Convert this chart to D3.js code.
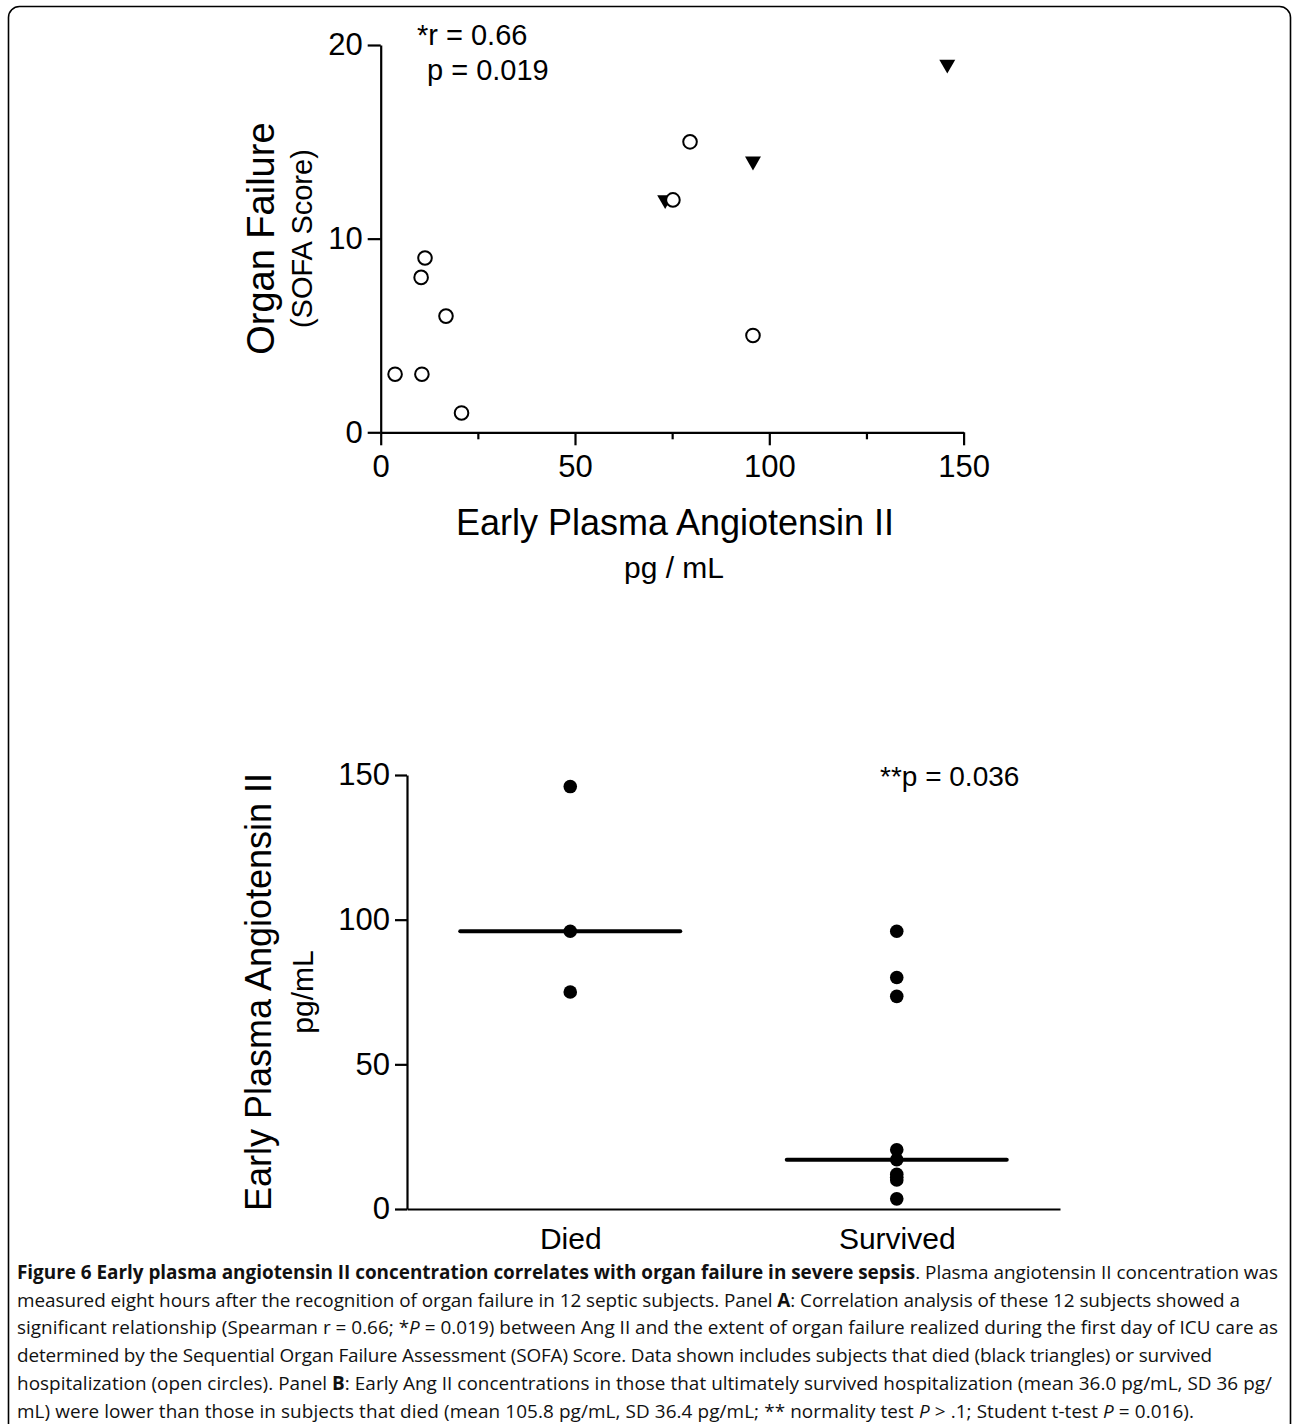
<!DOCTYPE html>
<html>
<head>
<meta charset="utf-8">
<title>Figure 6</title>
<style>
  body { margin: 0; background: #ffffff; }
  svg { display: block; }
  .axis path, .axis line { stroke: #000; stroke-width: 2.2px; fill: none; }
  .axis text { font-family: 'Liberation Sans', Arial, sans-serif; fill: #000; }
  .lbl { font-family: 'Liberation Sans', Arial, sans-serif; fill: #000; }
  .cap { font-family: 'Open Sans', sans-serif; fill: #111; }
</style>
</head>
<body>
<script src="https://cdn.jsdelivr.net/npm/d3@7"></script>
<script>
'use strict';

// panel A: organ failure vs early Ang II
const survivedX = [3.7, 10.6, 10.4, 11.4, 16.8, 20.8, 79.6, 75.2, 95.8];
const survivedY = [3, 3, 8, 9, 6, 1, 15, 12, 5];
const diedX = [73.2, 95.8, 145.8];
const diedY = [12, 14, 19];
const topYTicks = [0, 10, 20];
const topXMajor = [0, 50, 100, 150];
const topXMinor = [25, 75, 125];

// panel B: Ang II by outcome
const groups = ['Died', 'Survived'];
const diedVals = [146, 96, 75];
const survivedVals = [96, 80, 73.5, 20.5, 17, 12, 11, 10, 3.5];
const medians = [96, 17];
const botYTicks = [0, 50, 100, 150];

// caption
const captionLines = [
  [['Figure 6 Early plasma angiotensin II concentration correlates with organ failure in severe sepsis', 'b'], ['. Plasma angiotensin II concentration was', '']],
  [['measured eight hours after the recognition of organ failure in 12 septic subjects. Panel ', ''], ['A', 'b'], [': Correlation analysis of these 12 subjects showed a', '']],
  [['significant relationship (Spearman r = 0.66; *', ''], ['P', 'i'], [' = 0.019) between Ang II and the extent of organ failure realized during the first day of ICU care as', '']],
  [['determined by the Sequential Organ Failure Assessment (SOFA) Score. Data shown includes subjects that died (black triangles) or survived', '']],
  [['hospitalization (open circles). Panel ', ''], ['B', 'b'], [': Early Ang II concentrations in those that ultimately survived hospitalization (mean 36.0 pg/mL, SD 36 pg/', '']],
  [['mL) were lower than those in subjects that died (mean 105.8 pg/mL, SD 36.4 pg/mL; ** normality test ', ''], ['P', 'i'], [' > .1; Student t-test ', ''], ['P', 'i'], [' = 0.016).', '']]
];
const captionEnds = [1278, 1240, 1278, 1212, 1272, 1194];

const W = 1292, H = 1424;
const svg = d3.select('body').append('svg')
  .attr('width', W)
  .attr('height', H);

// frame around the figure
svg.append('rect')
  .attr('x', 8.5).attr('y', 6.5)
  .attr('width', 1282).attr('height', 1440)
  .attr('rx', 11).attr('ry', 11)
  .attr('fill', 'none')
  .attr('stroke', '#000')
  .attr('stroke-width', 1.6);

// ---------- panel A ----------
const xA = d3.scaleLinear().domain([0, 150]).range([380.7, 963.6]);
const yA = d3.scaleLinear().domain([0, 20]).range([432.3, 45]);

svg.append('g')
  .attr('class', 'axis')
  .attr('transform', 'translate(0,' + yA(0) + ')')
  .call(d3.axisBottom(xA).tickValues(topXMinor).tickSize(7).tickSizeOuter(0).tickFormat(''))
  .call(g => g.select('.domain').remove());

svg.append('g')
  .attr('class', 'axis')
  .attr('transform', 'translate(0,' + yA(0) + ')')
  .call(d3.axisBottom(xA).tickValues(topXMajor).tickSize(13).tickSizeOuter(0).tickPadding(10))
  .call(g => g.selectAll('text').attr('font-size', 31));

svg.append('g')
  .attr('class', 'axis')
  .attr('transform', 'translate(' + xA(0) + ',0)')
  .call(d3.axisLeft(yA).tickValues(topYTicks).tickSize(13).tickSizeOuter(0).tickPadding(5))
  .call(g => g.selectAll('text').attr('font-size', 31));

// died: filled down triangles
svg.selectAll('.tri')
  .data(diedX)
  .enter().append('path')
    .attr('class', 'tri')
    .attr('d', d3.symbol(d3.symbolTriangle, 110))
    .attr('transform', (d, i) => 'translate(' + xA(d) + ',' + yA(diedY[i]) + ') rotate(180)')
    .attr('fill', '#000');

// survived: open circles
svg.selectAll('.open')
  .data(survivedX)
  .enter().append('circle')
    .attr('class', 'open')
    .attr('cx', d => xA(d))
    .attr('cy', (d, i) => yA(survivedY[i]))
    .attr('r', 6.8)
    .attr('fill', '#fff')
    .attr('stroke', '#000')
    .attr('stroke-width', 2);

svg.append('text').attr('class', 'lbl')
  .attr('x', 417).attr('y', 45).attr('font-size', 29)
  .text('*r = 0.66');
svg.append('text').attr('class', 'lbl')
  .attr('x', 427).attr('y', 80).attr('font-size', 29)
  .text('p = 0.019');

svg.append('text').attr('class', 'lbl')
  .attr('transform', 'translate(274,' + yA(10) + ') rotate(-90)')
  .attr('text-anchor', 'middle').attr('font-size', 38)
  .text('Organ Failure');
svg.append('text').attr('class', 'lbl')
  .attr('transform', 'translate(312,' + yA(10) + ') rotate(-90)')
  .attr('text-anchor', 'middle').attr('font-size', 29)
  .text('(SOFA Score)');

svg.append('text').attr('class', 'lbl')
  .attr('x', 675).attr('y', 535)
  .attr('text-anchor', 'middle').attr('font-size', 36)
  .text('Early Plasma Angiotensin II');
svg.append('text').attr('class', 'lbl')
  .attr('x', 674).attr('y', 578)
  .attr('text-anchor', 'middle').attr('font-size', 30)
  .text('pg / mL');

// ---------- panel B ----------
const xB = d3.scalePoint().domain(groups).range([407, 1060]).padding(0.5);
const yB = d3.scaleLinear().domain([0, 150]).range([1209, 775]);

svg.append('g')
  .attr('class', 'axis')
  .attr('transform', 'translate(0,' + yB(0) + ')')
  .call(d3.axisBottom(xB).tickSize(0).tickSizeOuter(0).tickPadding(19))
  .call(g => g.selectAll('text').attr('font-size', 30));

svg.append('g')
  .attr('class', 'axis')
  .attr('transform', 'translate(' + xB.range()[0] + ',0)')
  .call(d3.axisLeft(yB).tickValues(botYTicks).tickSize(12).tickSizeOuter(0).tickPadding(5))
  .call(g => g.selectAll('text').attr('font-size', 31));

const pts = diedVals.map(v => ({g: 'Died', v: v}))
  .concat(survivedVals.map(v => ({g: 'Survived', v: v})));

svg.selectAll('.dot')
  .data(pts)
  .enter().append('circle')
    .attr('class', 'dot')
    .attr('cx', d => xB(d.g))
    .attr('cy', d => yB(d.v))
    .attr('r', 6.8)
    .attr('fill', '#000');

svg.selectAll('.median')
  .data(groups)
  .enter().append('line')
    .attr('class', 'median')
    .attr('x1', d => xB(d) - 110)
    .attr('x2', d => xB(d) + 110)
    .attr('y1', (d, i) => yB(medians[i]))
    .attr('y2', (d, i) => yB(medians[i]))
    .attr('stroke', '#000')
    .attr('stroke-width', 4)
    .attr('stroke-linecap', 'round');

svg.append('text').attr('class', 'lbl')
  .attr('x', 880).attr('y', 786).attr('font-size', 28)
  .text('**p = 0.036');

svg.append('text').attr('class', 'lbl')
  .attr('transform', 'translate(271,' + yB(75) + ') rotate(-90)')
  .attr('text-anchor', 'middle').attr('font-size', 36)
  .text('Early Plasma Angiotensin II');
svg.append('text').attr('class', 'lbl')
  .attr('transform', 'translate(313,' + yB(75) + ') rotate(-90)')
  .attr('text-anchor', 'middle').attr('font-size', 30)
  .text('pg/mL');

// ---------- caption ----------
const capX = 17, capY0 = 1279, capDy = 27.7;
let baseSize = 19;
const capTexts = captionLines.map((segs, i) => {
  const t = svg.append('text').attr('class', 'cap')
    .attr('x', capX).attr('y', capY0 + i * capDy)
    .attr('font-size', baseSize);
  segs.forEach(s => {
    t.append('tspan')
      .attr('font-weight', s[1] === 'b' ? 700 : 400)
      .attr('font-style', s[1] === 'i' ? 'italic' : 'normal')
      .text(s[0]);
  });
  return t;
});

// scale the font so lines land near the reference widths, then fit exactly
const ratios = capTexts.map((t, i) => (captionEnds[i] - capX) / t.node().getComputedTextLength());
const scale = d3.median(ratios);
capTexts.forEach((t, i) => {
  t.attr('font-size', baseSize * scale)
    .attr('textLength', captionEnds[i] - capX)
    .attr('lengthAdjust', 'spacing');
});
</script>
</body>
</html>
